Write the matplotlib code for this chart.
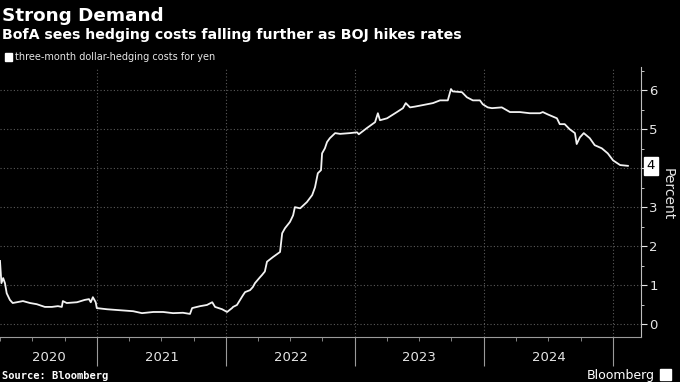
import matplotlib
matplotlib.use("Agg")
import matplotlib.pyplot as plt
import matplotlib.dates as mdates
import matplotlib.transforms as mtransforms
import pandas as pd

# three-month dollar-hedging costs for yen (%)
dates = [
    "2020-04-01", "2020-04-05", "2020-04-10", "2020-04-15", "2020-04-20", "2020-04-29",
    "2020-05-07", "2020-06-05", "2020-06-25", "2020-07-14", "2020-08-06", "2020-08-26",
    "2020-09-12", "2020-09-23", "2020-09-26", "2020-10-07", "2020-11-05", "2020-11-27",
    "2020-12-09", "2020-12-14", "2020-12-20", "2020-12-28", "2020-12-31",
    "2021-01-29", "2021-02-27", "2021-04-13", "2021-05-08", "2021-06-09", "2021-06-28",
    "2021-07-07", "2021-08-04", "2021-09-01", "2021-09-21", "2021-09-27", "2021-10-20",
    "2021-11-08", "2021-11-23", "2021-12-01", "2021-12-21",
    "2022-01-04", "2022-01-18", "2022-01-21", "2022-02-01", "2022-02-18", "2022-02-24",
    "2022-03-10", "2022-03-18", "2022-03-24", "2022-04-07", "2022-04-13", "2022-04-21",
    "2022-04-27", "2022-05-14", "2022-06-03", "2022-06-09", "2022-06-17", "2022-07-01",
    "2022-07-10", "2022-07-15", "2022-07-30", "2022-08-18", "2022-09-02", "2022-09-10",
    "2022-09-18", "2022-09-27", "2022-09-30", "2022-10-08", "2022-10-14", "2022-10-22",
    "2022-11-06", "2022-11-20", "2022-12-18",
    "2023-01-07", "2023-01-12", "2023-02-04", "2023-02-27", "2023-03-07", "2023-03-13",
    "2023-04-02", "2023-04-30", "2023-05-17", "2023-05-25", "2023-06-06", "2023-06-20",
    "2023-07-13", "2023-08-10", "2023-08-30", "2023-09-21", "2023-09-30", "2023-10-05",
    "2023-10-31", "2023-11-14", "2023-12-01", "2023-12-21", "2023-12-29",
    "2024-01-12", "2024-01-24", "2024-02-21", "2024-03-15", "2024-04-12", "2024-05-10",
    "2024-06-08", "2024-06-16", "2024-06-30", "2024-07-26", "2024-08-03", "2024-08-17",
    "2024-08-31", "2024-09-15", "2024-09-20", "2024-09-29", "2024-10-10", "2024-10-27",
    "2024-11-10", "2024-11-30", "2024-12-17",
    "2025-01-01", "2025-01-21", "2025-02-12",
]
values = [
    1.62, 1.05, 1.18, 1.05, 0.79, 0.62,
    0.54, 0.59, 0.54, 0.51, 0.44, 0.44,
    0.46, 0.44, 0.59, 0.54, 0.56, 0.62,
    0.64, 0.56, 0.69, 0.56, 0.41,
    0.38, 0.36, 0.33, 0.28, 0.31, 0.31,
    0.31, 0.28, 0.29, 0.26, 0.41, 0.46,
    0.49, 0.56, 0.44, 0.38,
    0.31, 0.41, 0.44, 0.49, 0.74, 0.82,
    0.87, 0.95, 1.05, 1.20, 1.26, 1.35,
    1.60, 1.72, 1.85, 2.33, 2.46, 2.62,
    2.79, 3.00, 2.97, 3.13, 3.31, 3.51,
    3.87, 3.95, 4.38, 4.51, 4.67, 4.77,
    4.90, 4.88, 4.90,
    4.92, 4.87, 5.03, 5.18, 5.41, 5.23,
    5.28, 5.44, 5.54, 5.67, 5.56, 5.58,
    5.62, 5.67, 5.74, 5.74, 6.03, 5.97,
    5.95, 5.82, 5.74, 5.74, 5.64,
    5.56, 5.54, 5.56, 5.44, 5.44, 5.41,
    5.41, 5.44, 5.38, 5.28, 5.13, 5.13,
    5.00, 4.90, 4.62, 4.79, 4.90, 4.77,
    4.59, 4.51, 4.38,
    4.20, 4.08, 4.06,
]
year_labels = ["2020", "2021", "2022", "2023", "2024"]
y_ticks = [0, 1, 2, 3, 4, 5, 6]

x = pd.to_datetime(dates)
x_start = pd.Timestamp("2020-04-01")
x_end = pd.Timestamp("2025-03-21")

fg = "#e6e6e6"
grid_c = "#5a5a5a"

fig = plt.figure(figsize=(6.8, 3.82), dpi=100, facecolor="black")
ax = fig.add_axes([0.0, 0.118, 0.9426, 0.707], facecolor="black")

ax.plot(x, values, color="#f2f2f2", lw=1.3, solid_joinstyle="round")

ax.set_xlim(x_start, x_end)
ax.set_ylim(-0.33, 6.6)

# y axis on the right
ax.yaxis.tick_right()
ax.yaxis.set_label_position("right")
ax.set_yticks(y_ticks)
ax.set_yticks([v + 0.5 for v in y_ticks], minor=True)
ax.tick_params(axis="y", which="major", colors=fg, length=4, width=0.8,
               labelsize=9.5, pad=2)
ax.tick_params(axis="y", which="minor", colors=fg, length=2, width=0.6)
ax.set_ylabel("Percent", color=fg, fontsize=10, rotation=270, labelpad=12)
ax.yaxis.set_label_coords(1.052, 0.53)

# x axis: long ticks at year boundaries, short ticks each quarter
ax.xaxis.set_major_locator(mdates.YearLocator())
ax.xaxis.set_minor_locator(mdates.MonthLocator(bymonth=[1, 4, 7, 10]))
ax.xaxis.set_major_formatter(plt.NullFormatter())
ax.tick_params(axis="x", which="major", colors="#9a9a9a", length=21, width=0.8)
ax.tick_params(axis="x", which="minor", colors="#9a9a9a", length=3, width=0.6)

trans = mtransforms.blended_transform_factory(ax.transData, ax.transAxes)
bounds = [x_start] + [pd.Timestamp(f"{int(y) + 1}-01-01") for y in year_labels]
for i, lab in enumerate(year_labels):
    mid = bounds[i] + (bounds[i + 1] - bounds[i]) / 2
    ax.text(mid, -0.078, lab, transform=trans, ha="center", va="center",
            color=fg, fontsize=9.5)

ax.grid(True, which="major", color=grid_c, linestyle=(0, (1, 2)), linewidth=0.8)

for side in ["top", "left"]:
    ax.spines[side].set_visible(False)
ax.spines["right"].set_color("#bdbdbd")
ax.spines["bottom"].set_color("#9a9a9a")

# last value box on the right axis
last = values[-1]
ax.set_yticklabels(["" if t == round(last) else str(t) for t in y_ticks])
ax.annotate(str(round(last)), xy=(1.0, last), xycoords=("axes fraction", "data"),
            xytext=(4, 0), textcoords="offset points", ha="left", va="center",
            fontsize=9.5, color="black",
            bbox=dict(boxstyle="square,pad=0.2", fc="white", ec="white"))

# titles and notes
fig.text(0.003, 0.958, "Strong Demand", color="white", fontsize=13.2,
         fontweight="bold", va="center")
fig.text(0.003, 0.908, "BofA sees hedging costs falling further as BOJ hikes rates",
         color="white", fontsize=10.2, fontweight="bold", va="center")
fig.patches.append(plt.Rectangle((0.0075, 0.841), 0.0105, 0.019, color="white",
                                 transform=fig.transFigure, figure=fig))
fig.text(0.022, 0.851, "three-month dollar-hedging costs for yen", color=fg,
         fontsize=7, va="center")
fig.text(0.003, 0.016, "Source: Bloomberg", color="white", fontsize=7.5,
         fontweight="bold", family="DejaVu Sans Mono", va="center")
fig.text(0.963, 0.016, "Bloomberg", color="white", fontsize=9, ha="right",
         va="center")
fig.patches.append(plt.Rectangle((0.971, 0.004), 0.016, 0.03, color="white",
                                 transform=fig.transFigure, figure=fig))

fig.savefig("out.png", dpi=100, facecolor="black")
